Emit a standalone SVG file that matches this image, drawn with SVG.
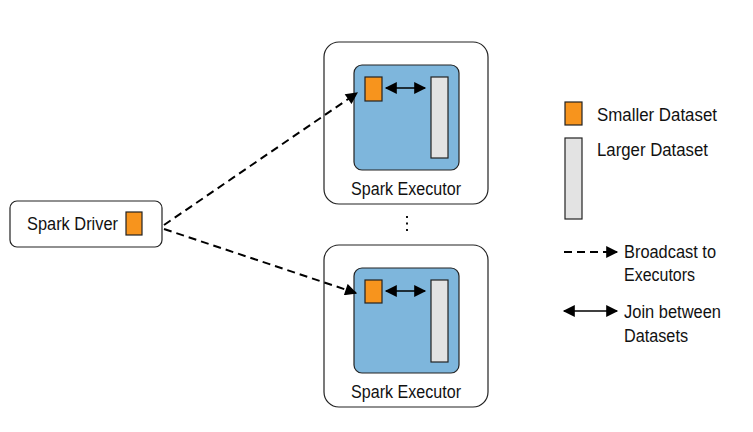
<svg xmlns="http://www.w3.org/2000/svg" width="753" height="432" viewBox="0 0 753 432">
<defs>
<marker id="ah" viewBox="0 0 10 10" refX="9" refY="5" markerWidth="7" markerHeight="6" orient="auto-start-reverse" markerUnits="strokeWidth"><path d="M0,0 L10,5 L0,10 Z" fill="#000"/></marker>
<marker id="ah2" viewBox="0 0 10 10" refX="9" refY="5" markerWidth="8.5" markerHeight="7.5" orient="auto-start-reverse" markerUnits="strokeWidth"><path d="M0,0 L10,5 L0,10 Z" fill="#000"/></marker>
<style>
.box{fill:#fff;stroke:#222;stroke-width:1.2}
.inner{fill:#7eb6dc;stroke:#222;stroke-width:1.2}
.small{fill:#f7941d;stroke:#222;stroke-width:1.2}
.large{fill:#e3e3e3;stroke:#222;stroke-width:1.2}
.t{font-family:"Liberation Sans",Arial,sans-serif;font-size:17.5px;fill:#111}
.dash{fill:none;stroke:#000;stroke-width:2;stroke-dasharray:8 5}
.solid{fill:none;stroke:#000;stroke-width:1.6}
</style>
</defs>
<rect width="753" height="432" fill="#fff"/>
<g id="driver">
<rect class="box" x="10" y="201" width="152" height="46" rx="7"/>
<text class="t" x="27" y="230" textLength="91" lengthAdjust="spacingAndGlyphs">Spark Driver</text>
<rect class="small" x="126" y="212" width="16" height="23"/>
</g>
<g id="executor1">
<rect class="box" x="324" y="42" width="164" height="162" rx="15"/>
<rect class="inner" x="354" y="65" width="105" height="105" rx="8"/>
<rect class="small" x="365" y="77" width="17" height="24"/>
<rect class="large" x="431" y="77" width="17" height="81"/>
<text class="t" x="351" y="195" textLength="110" lengthAdjust="spacingAndGlyphs">Spark Executor</text>
</g>
<g id="executor2">
<rect class="box" x="324" y="245" width="164" height="162" rx="15"/>
<rect class="inner" x="354" y="268" width="105" height="105" rx="8"/>
<rect class="small" x="365" y="280" width="17" height="23"/>
<rect class="large" x="431" y="280" width="17" height="82"/>
<text class="t" x="351" y="398" textLength="110" lengthAdjust="spacingAndGlyphs">Spark Executor</text>
</g>
<g id="ellipsis" fill="#111">
<rect x="406" y="216" width="2" height="2"/>
<rect x="406" y="222.5" width="2" height="2"/>
<rect x="406" y="229" width="2" height="2"/>
</g>
<g id="legend">
<rect class="small" x="565" y="102" width="17" height="23"/>
<text class="t" x="597" y="121" textLength="120" lengthAdjust="spacingAndGlyphs">Smaller Dataset</text>
<rect class="large" x="565" y="138" width="17" height="81"/>
<text class="t" x="597" y="156" textLength="111" lengthAdjust="spacingAndGlyphs">Larger Dataset</text>
<path class="dash" d="M564,252 H617" stroke-dasharray="12 6" marker-end="url(#ah)"/>
<text class="t" x="624" y="258" textLength="92" lengthAdjust="spacingAndGlyphs">Broadcast to</text>
<text class="t" x="624" y="281" textLength="71" lengthAdjust="spacingAndGlyphs">Executors</text>
<path class="solid" d="M564,311 H617" marker-start="url(#ah2)" marker-end="url(#ah2)"/>
<text class="t" x="624" y="318" textLength="97" lengthAdjust="spacingAndGlyphs">Join between</text>
<text class="t" x="624" y="342" textLength="64" lengthAdjust="spacingAndGlyphs">Datasets</text>
</g>
<g id="connectors">
<path class="dash" d="M164,225 L357,93" marker-end="url(#ah)"/>
<path class="dash" d="M164,229 L356,293" marker-end="url(#ah)"/>
<path class="solid" d="M386,88 H425" marker-start="url(#ah2)" marker-end="url(#ah2)"/>
<path class="solid" d="M386,291 H425" marker-start="url(#ah2)" marker-end="url(#ah2)"/>
</g>
</svg>
